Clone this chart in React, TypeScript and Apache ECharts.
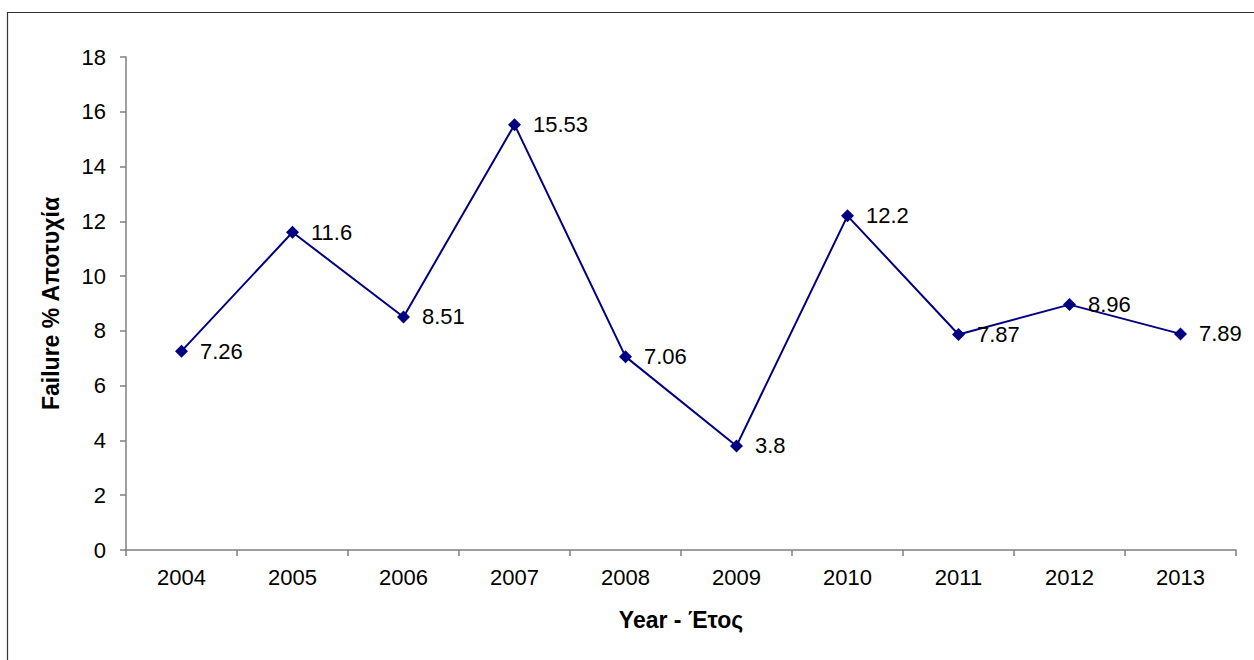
import React, { useEffect, useRef } from "react";
import * as echarts from "echarts";

const years = ["2004", "2005", "2006", "2007", "2008", "2009", "2010", "2011", "2012", "2013"];
const failure = [7.26, 11.6, 8.51, 15.53, 7.06, 3.8, 12.2, 7.87, 8.96, 7.89];
const xName = "Year - Έτος";
const yName = "Failure % Αποτυχία";

const FONT = "'Liberation Sans', Arial, sans-serif";

export default function App() {
  const ref = useRef<HTMLDivElement>(null);
  useEffect(() => {
    if (!ref.current) return;
    const chart = echarts.init(ref.current, undefined, { renderer: "svg" });
    chart.setOption({
      animation: false,
      backgroundColor: "#ffffff",
      textStyle: { fontFamily: FONT },
      graphic: [
        {
          type: "rect",
          shape: { x: 7.5, y: 12.5, width: 1300, height: 700 },
          style: { fill: "none", stroke: "#333333", lineWidth: 1.2 },
          silent: true,
          z: -1,
        },
      ],
      grid: { left: 126, right: 18, top: 57, bottom: 110, containLabel: false },
      xAxis: {
        type: "category",
        data: years,
        boundaryGap: true,
        name: xName,
        nameLocation: "middle",
        nameGap: 58,
        nameTextStyle: { fontFamily: FONT, fontSize: 23, fontWeight: "bold", color: "#000" },
        axisLine: { lineStyle: { color: "#7f7f7f", width: 1.5 } },
        axisTick: { show: true, alignWithLabel: false, length: 6, lineStyle: { color: "#7f7f7f", width: 1.5 } },
        axisLabel: { fontFamily: FONT, fontSize: 22, color: "#000", margin: 16 },
        splitLine: { show: false },
      },
      yAxis: {
        type: "value",
        min: 0,
        max: 18,
        interval: 2,
        name: yName,
        nameLocation: "middle",
        nameGap: 64,
        nameRotate: 90,
        nameTextStyle: { fontFamily: FONT, fontSize: 23, fontWeight: "bold", color: "#000" },
        axisLine: { show: true, lineStyle: { color: "#7f7f7f", width: 1.5 } },
        axisTick: { show: true, length: 6, lineStyle: { color: "#7f7f7f", width: 1.5 } },
        axisLabel: { fontFamily: FONT, fontSize: 22, color: "#000", margin: 20 },
        splitLine: { show: false },
      },
      series: [
        {
          type: "line",
          data: failure,
          symbol: "diamond",
          symbolSize: 13,
          itemStyle: { color: "#000080" },
          lineStyle: { color: "#000080", width: 2 },
          label: {
            show: true,
            position: "right",
            distance: 12,
            fontFamily: FONT,
            fontSize: 22,
            color: "#000",
          },
        },
      ],
    });
    return () => chart.dispose();
  }, []);
  return (
    <div
      ref={ref}
      style={{ position: "absolute", left: 0, top: 0, width: 1254, height: 660 }}
    />
  );
}
